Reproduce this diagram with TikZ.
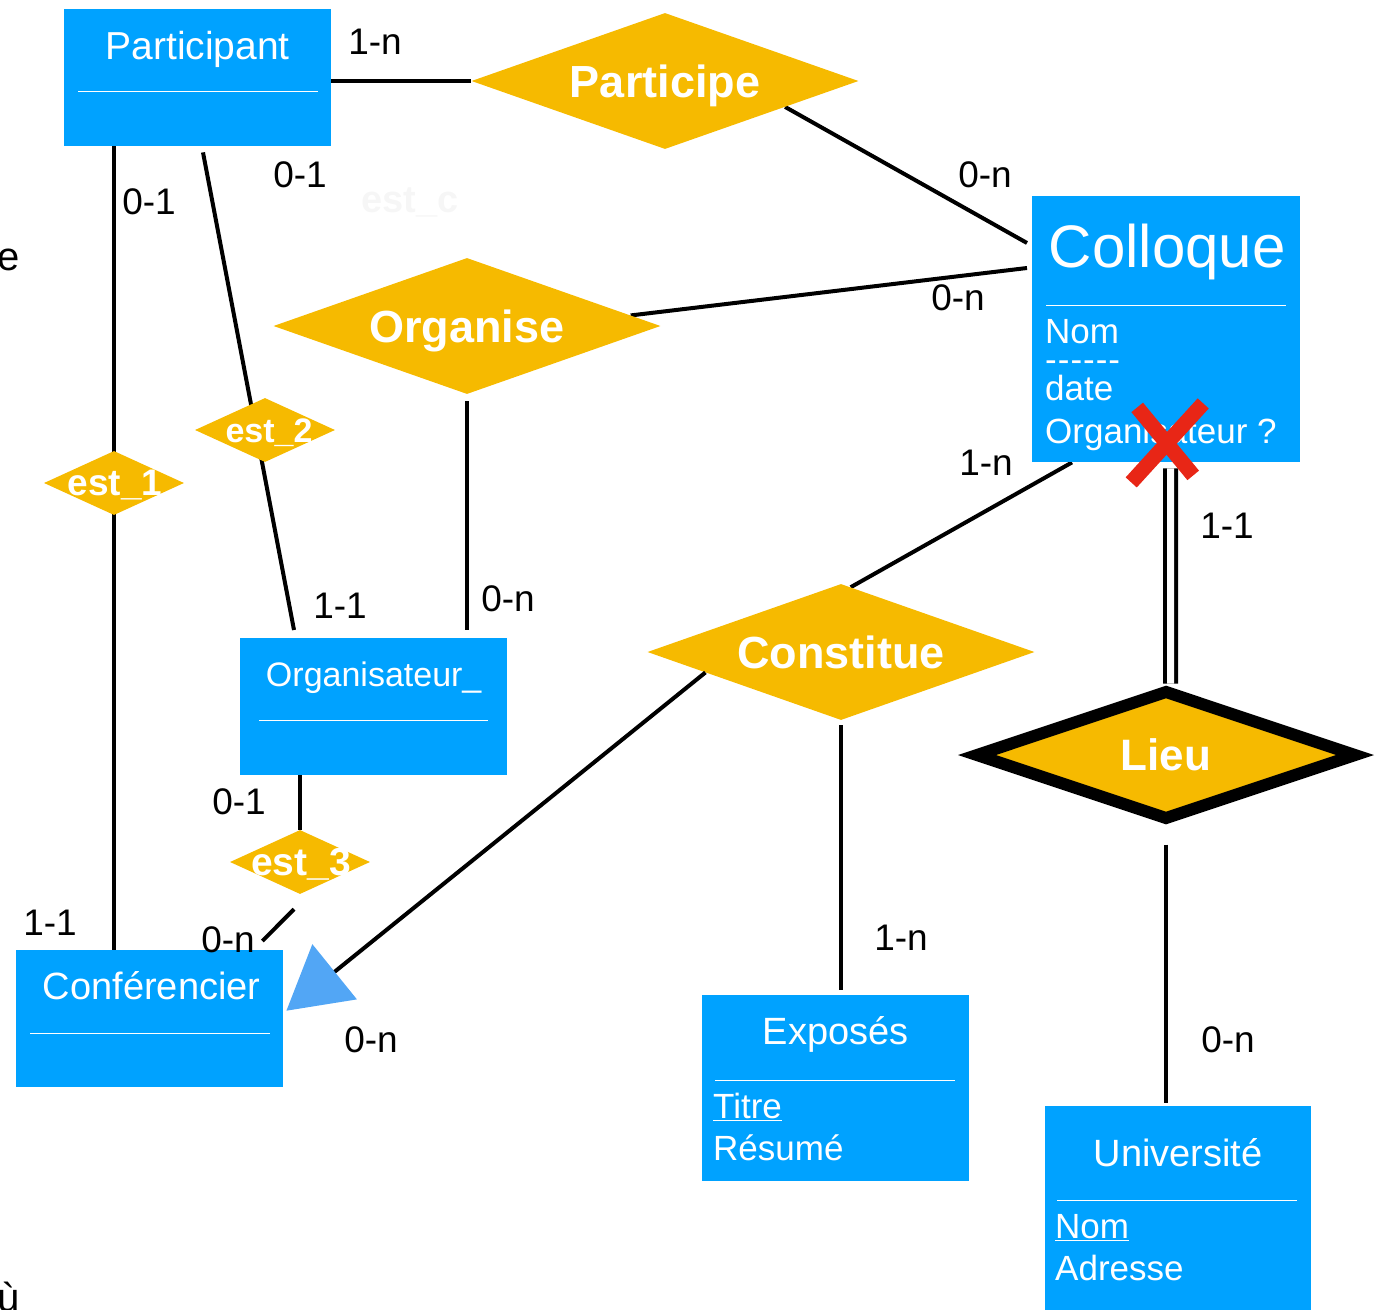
\documentclass[tikz,border=0pt]{standalone}
\usepackage{fontspec}
\setmainfont{Liberation Sans}
\usepackage{xcolor}
\usepackage{tikz}
\usetikzlibrary{
  positioning,
  calc,
  shapes.geometric,
  arrows.meta,
  backgrounds,
}
\definecolor{entblue}{RGB}{0,162,255}
\definecolor{relyellow}{RGB}{246,186,0}
\definecolor{tipblue}{RGB}{82,166,245}
\definecolor{crossred}{RGB}{232,38,22}
\definecolor{faintgray}{RGB}{246,246,246}
\tikzset{
  entity/.style={
    rectangle,
    fill=entblue,
    inner sep=0pt,
    anchor=north west
  },
  ent title/.style={
    text=white,
    anchor=base,
    inner sep=0pt,
    font=\fontsize{38}{44}\selectfont
  },
  attr/.style={
    text=white,
    anchor=base west,
    inner sep=0pt,
    font=\fontsize{35}{42}\selectfont
  },
  relation/.style={
    diamond,
    fill=relyellow,
    inner sep=0pt,
    aspect=2.85,
    minimum width=387pt,
    minimum height=136pt,
    text=white,
    text depth=0pt,
    font=\bfseries\fontsize{45}{52}\selectfont
  },
  small rel/.style={
    diamond,
    fill=relyellow,
    minimum width=140pt,
    minimum height=64pt,
    inner sep=0pt
  },
  rel text/.style={
    text=white,
    text depth=0pt,
    inner sep=0pt,
    font=\bfseries\fontsize{37}{44}\selectfont
  },
  card/.style={
    inner sep=0pt,
    font=\fontsize{37}{44}\selectfont
  },
  link/.style={
    line width=4pt
  },
  sep line/.style={
    white,
    line width=1pt
  },
  cross mark/.style={
    crossred,
    line width=15pt
  }
}

\begin{document}
\begin{tikzpicture}[x=1pt, y=-1pt]
  \useasboundingbox (0,0) rectangle (1378,1309);

  %% entities
  \node[entity, minimum width=267pt, minimum height=137pt] (part) at (64,9) {};
  \node[ent title, font=\fontsize{39}{46}\selectfont] (part-t) at ($(part.north)+(0,50)$) {Participant};
  \draw[sep line] ($(part.north west)+(14,82)$) -- ($(part.north west)+(254,82)$);

  \node[entity, minimum width=268pt, minimum height=266pt] (coll) at (1032,196) {};
  \node[ent title, font=\fontsize{60}{70}\selectfont] (coll-t) at ($(coll.north)+(1,71)$) {Colloque};
  \draw[sep line] ($(coll.north west)+(14,109)$) -- ($(coll.north west)+(254,109)$);
  \node[attr] (coll-a1) at ($(coll.north west)+(13,147)$) {Nom};
  \node[attr] (coll-a2) at ($(coll.north west)+(13,175)$) {-\kern1pt-\kern1pt-\kern1pt-\kern1pt-\kern1pt-};
  \node[attr] (coll-a3) at ($(coll.north west)+(13,204)$) {date};
  \node[attr] (coll-a4) at ($(coll.north west)+(13,247)$) {Organisateur ?};

  \node[entity, minimum width=267pt, minimum height=137pt] (orga) at (240,638) {};
  \node[ent title, font=\fontsize{34}{40}\selectfont] (orga-t) at ($(orga.north)+(0,48)$) {Organisateur\_};
  \draw[sep line] ($(orga.north west)+(19,82)$) -- ($(orga.north west)+(248,82)$);

  \node[entity, minimum width=267pt, minimum height=137pt] (conf) at (16,950) {};
  \node[ent title] (conf-t) at ($(conf.north)+(2,49)$) {Conférencier};
  \draw[sep line] ($(conf.north west)+(14,83)$) -- ($(conf.north west)+(254,83)$);

  \node[entity, minimum width=267pt, minimum height=186pt] (expo) at (702,995) {};
  \node[ent title] (expo-t) at ($(expo.north)+(0,49)$) {Exposés};
  \draw[sep line] ($(expo.north west)+(13,85)$) -- ($(expo.north west)+(253,85)$);
  \node[attr] (expo-a1) at ($(expo.north west)+(11,123)$) {\underline{Titre}};
  \node[attr] (expo-a2) at ($(expo.north west)+(11,165)$) {Résumé};

  \node[entity, minimum width=266pt, minimum height=215pt] (univ) at (1045,1106) {};
  \node[ent title] (univ-t) at ($(univ.north)+(0,60)$) {Université};
  \draw[sep line] ($(univ.north west)+(12,94)$) -- ($(univ.north west)+(252,94)$);
  \node[attr] (univ-a1) at ($(univ.north west)+(10,132)$) {\underline{Nom}};
  \node[attr] (univ-a2) at ($(univ.north west)+(10,174)$) {Adresse};

  %% relations
  \node[relation] (participe) at (665,81) {Participe};
  \node[relation] (organise) at (467,326) {Organise};
  \node[relation] (constitue) at (841,652) {Constitue};
  \node[relation, draw=black, line width=12pt, line join=miter, aspect=2.9,
        minimum width=383pt, minimum height=131pt,
        font=\bfseries\fontsize{44}{50}\selectfont] (lieu) at (1166,755) {Lieu};

  \node[small rel] (est1) at (114,483) {};
  \node[rel text] (est1-t) at (115,483) {est\_1};
  \node[small rel] (est2) at (265,430) {};
  \node[rel text, font=\bfseries\fontsize{34}{40}\selectfont] (est2-t) at (269,431) {est\_2};
  \node[small rel] (est3) at (300,862) {};
  \node[rel text, font=\bfseries\fontsize{39}{46}\selectfont] (est3-t) at (301,862) {est\_3};

  \begin{scope}[on background layer]
    \draw[link] (part.east |- participe.west) -- (participe.west);
    \draw[link] ($(participe.east)!0.38!(participe.south)$) -- ($(coll.north west)+(-5,47)$);
    \draw[link] ($(organise.east)!0.155!(organise.north)$) -- ($(coll.north west)+(-5,72)$);
    \draw[link] ($(est1 |- part.south)+(0,-3)$) -- (est1 |- conf.north);
    \draw[link] ($(part.south west)+(139,6)$) -- ($(orga.north west)+(54,-8)$);
    \draw[link] ($(organise.south)+(0,7)$) -- ($(organise.south |- orga.north)+(0,-8)$);
    \draw[link] ($(est3 |- orga.south)+(0,-5)$) -- (est3.north);
    \draw[link] ($(est3.south)+(-6,15)$) -- ($(conf.north east)+(-21,-9)$);
    \draw[link] ($(coll.south west)+(40,0)$) -- ($(constitue.north)!0.05!(constitue.east)$);
    \draw[link] ($(constitue.south)+(0,5)$) -- ($(constitue.south |- expo.north)+(0,-5)$);
    \draw[link, double, double distance=7pt] ($(coll.south)+(4.5,6)$) -- ($(lieu.north)+(4.5,0)$);
    \draw[link] ($(lieu.south)+(0,18)$) -- ($(lieu.south |- univ.north)+(0,-3)$);
  \end{scope}

  \draw[link, -{Triangle[length=62pt, width=70pt, color=tipblue]}]
    ($(constitue.west)!0.3!(constitue.south)$) -- ($(conf.east)+(3,-8)$);

  %% cardinalities
  \node[card] (c-pp) at (375,42) {1-n};
  \node[card] (c-pc) at (985,175) {0-n};
  \node[card] (c-p1) at (149,202) {0-1};
  \node[card] (c-p2) at (300,175) {0-1};
  \node[card] (c-oc) at (958,298) {0-n};
  \node[card] (c-cc) at (986,463) {1-n};
  \node[card] (c-cl) at (1227,526) {1-1};
  \node[card] (c-o2) at (340,606) {1-1};
  \node[card] (c-oo) at (508,599) {0-n};
  \node[card] (c-o3) at (239,802) {0-1};
  \node[card] (c-f1) at (50,923) {1-1};
  \node[card] (c-f3) at (228,940) {0-n};
  \node[card] (c-fc) at (371,1040) {0-n};
  \node[card] (c-ec) at (901,938) {1-n};
  \node[card] (c-ul) at (1228,1040) {0-n};

  \node[card, text=faintgray, font=\bfseries\fontsize{38}{44}\selectfont] (estc) at (410,202) {est\_c};
  \node[card, anchor=base west, font=\fontsize{40}{46}\selectfont] (side-e) at (-3,270) {e};
  \node[card, anchor=base west, font=\fontsize{40}{46}\selectfont] (side-u) at (-3,1311) {ù};

  %% cross
  \draw[cross mark] ($(coll.south)+(-29,-55)$) -- ($(coll.south)+(27,13)$);
  \draw[cross mark] ($(coll.south)+(37,-59)$) -- ($(coll.south)+(-35,20)$);
\end{tikzpicture}
\end{document}
